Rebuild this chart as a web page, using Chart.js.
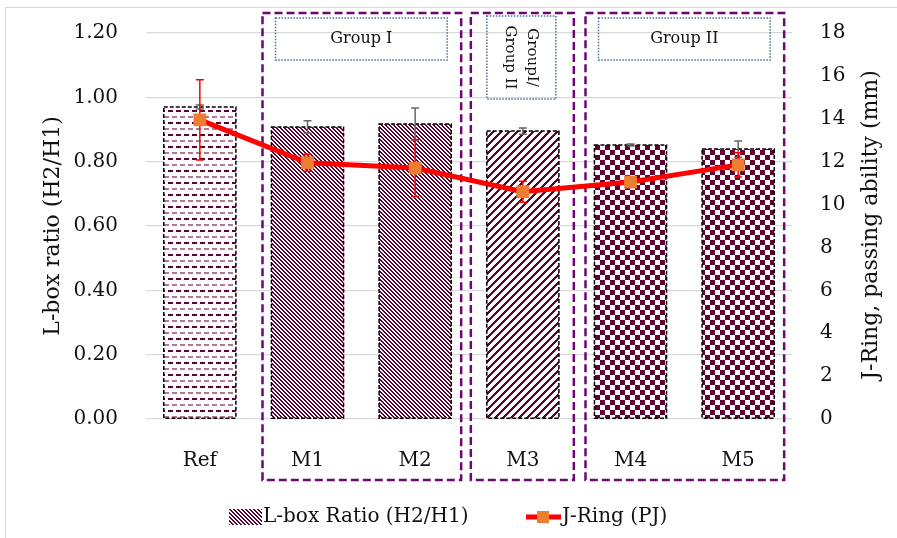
<!DOCTYPE html>
<html>
<head>
<meta charset="utf-8">
<script src="https://cdn.jsdelivr.net/npm/chart.js@4"></script>
<style>
  body { margin: 0; background: #fff; }
  #wrap { width: 897px; height: 538px; }
</style>
</head>
<body>
<div id="wrap"><canvas id="lboxChart" width="897" height="538"></canvas></div>
<script>
// mixes and measured values
const mixes = ['Ref', 'M1', 'M2', 'M3', 'M4', 'M5'];
const lboxRatio = [0.970, 0.908, 0.917, 0.895, 0.852, 0.839];
const lboxError = [0.006, 0.019, 0.050, 0.010, 0.003, 0.025];
const jRing = [13.95, 11.95, 11.7, 10.6, 11.05, 11.85];
const jRingError = [1.87, 0.40, 1.33, 0.49, 0.15, 0.56];
const barFills = ['dash', 'diag', 'diag', 'wide', 'check', 'check'];

// group frames: first and last mix of each one, label lines
const groups = [
  { from: 'M1', to: 'M2', label: ['Group I'] },
  { from: 'M3', to: 'M3', label: ['GroupI/', 'Group II'], vertical: true },
  { from: 'M4', to: 'M5', label: ['Group II'] }
];

const MAROON = '#600033';
const FONT = "'DejaVu Serif', serif";

// ––– hatch fills –––
function makePattern(kind) {
  const c = document.createElement('canvas');
  const g = c.getContext('2d');
  if (kind === 'dash') {
    c.width = 8; c.height = 12;
    g.fillStyle = '#fff'; g.fillRect(0, 0, 8, 12);
    g.fillStyle = MAROON; g.fillRect(0, 2, 5, 2);
    g.fillStyle = '#b27896'; g.fillRect(4, 8, 4, 2); g.fillRect(0, 8, 1, 2);
  } else if (kind === 'diag') {
    c.width = 4; c.height = 4;
    g.fillStyle = '#fff'; g.fillRect(0, 0, 4, 4);
    g.fillStyle = MAROON;
    for (let y = 0; y < 4; y++) {
      g.fillRect(y, y, 1, 1);
      g.fillRect((y + 1) % 4, y, 1, 1);
    }
  } else if (kind === 'wide') {
    c.width = 8; c.height = 8;
    g.fillStyle = '#fff'; g.fillRect(0, 0, 8, 8);
    g.fillStyle = MAROON;
    for (let y = 0; y < 8; y++) {
      for (let k = 0; k < 3; k++) g.fillRect((7 - y + k) % 8, y, 1, 1);
    }
  } else {
    c.width = 10; c.height = 10;
    g.fillStyle = '#fff'; g.fillRect(0, 0, 10, 10);
    g.fillStyle = MAROON;
    g.fillRect(0, 0, 5, 5); g.fillRect(5, 5, 5, 5);
  }
  return g.createPattern(c, 'repeat');
}

// ––– error bars, bar outlines, groups, legend –––
function errorBar(ctx, x, yTop, yBot, color) {
  ctx.save();
  ctx.strokeStyle = color;
  ctx.lineWidth = 1.5;
  ctx.beginPath();
  ctx.moveTo(x, yTop); ctx.lineTo(x, yBot);
  ctx.moveTo(x - 4, yTop); ctx.lineTo(x + 4, yTop);
  ctx.moveTo(x - 4, yBot); ctx.lineTo(x + 4, yBot);
  ctx.stroke();
  ctx.restore();
}

const extras = {
  id: 'extras',
  beforeDraw(chart) {
    const ctx = chart.ctx;
    ctx.save();
    ctx.strokeStyle = '#d9d9d9';
    ctx.lineWidth = 1;
    ctx.strokeRect(5.5, 7.5, 900, 540);
    ctx.restore();
  },
  beforeDatasetsDraw(chart) {
    const ctx = chart.ctx;
    const x = chart.scales.x;
    const area = chart.chartArea;
    ctx.save();
    groups.forEach(gr => {
      const left = x.getPixelForValue(mixes.indexOf(gr.from)) - (gr.vertical ? 52 : 45);
      const right = x.getPixelForValue(mixes.indexOf(gr.to)) + (gr.vertical ? 51 : 46);
      const top = area.top - 20;
      const bottom = area.bottom + 61;
      ctx.strokeStyle = '#6a0a70';
      ctx.lineWidth = 2.5;
      ctx.setLineDash([8, 4]);
      ctx.strokeRect(left, top, right - left, bottom - top);

      // label box
      ctx.strokeStyle = '#41719c';
      ctx.lineWidth = 1.5;
      ctx.setLineDash([1.5, 1.5]);
      ctx.fillStyle = '#111';
      if (gr.vertical) {
        const bx = left + 16, by = top + 3, bw = right - left - 34, bh = 83;
        ctx.strokeRect(bx, by, bw, bh);
        ctx.save();
        ctx.translate(bx + bw / 2, by + bh / 2);
        ctx.rotate(Math.PI / 2);
        ctx.font = '15px ' + FONT;
        ctx.textAlign = 'center';
        ctx.textBaseline = 'middle';
        ctx.fillText(gr.label[0], 0, -11);
        ctx.fillText(gr.label[1], 0, 11);
        ctx.restore();
      } else {
        const bx = left + 13, by = top + 5, bw = right - left - 27, bh = 42;
        ctx.strokeRect(bx, by, bw, bh);
        ctx.font = '16px ' + FONT;
        ctx.textAlign = 'center';
        ctx.textBaseline = 'middle';
        ctx.fillText(gr.label[0], bx + bw / 2, by + bh / 2);
      }
    });
    ctx.restore();
  },
  afterDatasetDraw(chart, args) {
    if (args.index !== 0) return;
    const ctx = chart.ctx;
    const y = chart.scales.y;
    const y2 = chart.scales.y2;
    // dashed outlines round the bars
    ctx.save();
    ctx.strokeStyle = '#000';
    ctx.lineWidth = 1.5;
    ctx.setLineDash([4, 2]);
    args.meta.data.forEach(bar => {
      ctx.strokeRect(bar.x - bar.width / 2, bar.y, bar.width, bar.base - bar.y);
    });
    ctx.restore();
    args.meta.data.forEach((bar, i) => {
      errorBar(ctx, bar.x, y.getPixelForValue(lboxRatio[i] + lboxError[i]),
        y.getPixelForValue(lboxRatio[i] - lboxError[i]), '#666');
    });
    args.meta.data.forEach((bar, i) => {
      errorBar(ctx, bar.x, y2.getPixelForValue(jRing[i] + jRingError[i]),
        y2.getPixelForValue(jRing[i] - jRingError[i]), '#ff0000');
    });
  },
  afterDraw(chart) {
    const ctx = chart.ctx;
    ctx.save();
    // right axis title, reading upwards
    ctx.font = '22px ' + FONT;
    ctx.fillStyle = '#111';
    ctx.textAlign = 'center';
    ctx.textBaseline = 'middle';
    ctx.translate(871, 225);
    ctx.rotate(-Math.PI / 2);
    ctx.fillText('J-Ring, passing ability (mm)', 0, 0);
    ctx.restore();

    // legend
    ctx.save();
    const ly = 517;
    ctx.fillStyle = makePattern('diag');
    ctx.fillRect(229, ly - 8, 33, 16);
    ctx.font = '20px ' + FONT;
    ctx.fillStyle = '#111';
    ctx.textBaseline = 'middle';
    ctx.textAlign = 'left';
    ctx.fillText('L-box Ratio (H2/H1)', 263, ly);
    ctx.strokeStyle = '#ff0000';
    ctx.lineWidth = 5;
    ctx.beginPath();
    ctx.moveTo(526, ly); ctx.lineTo(561, ly);
    ctx.stroke();
    ctx.fillStyle = '#ed7d31';
    ctx.fillRect(537, ly - 6, 12, 12);
    ctx.fillStyle = '#111';
    ctx.fillText('J-Ring (PJ)', 562, ly);
    ctx.restore();
  }
};

const fills = barFills.map(makePattern);

// fixed axis boxes so the plot area lands where it should
function fixSide(width) {
  return scale => {
    scale.width = width;
    scale.paddingTop = 0;
    scale.paddingBottom = 0;
  };
}

new Chart(document.getElementById('lboxChart'), {
  data: {
    labels: mixes,
    datasets: [
      {
        type: 'bar',
        label: 'L-box Ratio (H2/H1)',
        data: lboxRatio,
        yAxisID: 'y',
        backgroundColor: fills,
        borderWidth: 0,
        categoryPercentage: 1,
        barPercentage: 0.67,
        order: 2
      },
      {
        type: 'line',
        label: 'J-Ring (PJ)',
        data: jRing,
        yAxisID: 'y2',
        borderColor: '#ff0000',
        borderWidth: 5,
        pointStyle: 'rect',
        pointRadius: 9,
        pointBackgroundColor: '#ed7d31',
        pointBorderWidth: 0,
        tension: 0,
        order: 1
      }
    ]
  },
  options: {
    responsive: false,
    animation: false,
    layout: { padding: { top: 33, bottom: 0, left: 0, right: 0 } },
    plugins: {
      legend: { display: false },
      tooltip: { enabled: false }
    },
    scales: {
      x: {
        grid: { display: false },
        border: { display: false },
        ticks: { color: '#111', font: { family: FONT, size: 20 }, padding: 22 },
        afterFit(scale) {
          scale.height = 119;
          scale.paddingLeft = 0;
          scale.paddingRight = 0;
        }
      },
      y: {
        position: 'left',
        min: 0,
        max: 1.2,
        grid: { color: '#d9d9d9', lineWidth: 1.3, drawTicks: false },
        border: { display: false },
        ticks: {
          stepSize: 0.2,
          padding: 28,
          color: '#111',
          font: { family: FONT, size: 20 },
          callback: v => v.toFixed(2)
        },
        title: {
          display: true,
          text: 'L-box ratio (H2/H1)',
          color: '#111',
          font: { family: FONT, size: 22 },
          padding: { top: 40, bottom: 0 }
        },
        afterFit: fixSide(146)
      },
      y2: {
        position: 'right',
        min: 0,
        max: 18,
        grid: { display: false, drawTicks: false },
        border: { display: false },
        ticks: {
          stepSize: 2,
          padding: 28,
          color: '#111',
          font: { family: FONT, size: 20 }
        },
        afterFit: fixSide(105)
      }
    }
  },
  plugins: [extras]
});
</script>
</body>
</html>
